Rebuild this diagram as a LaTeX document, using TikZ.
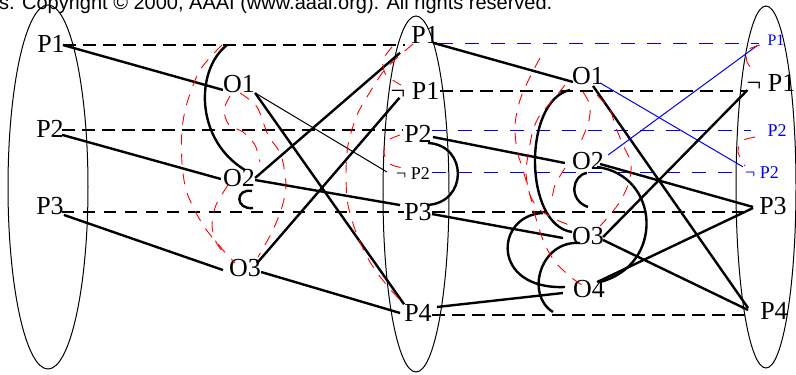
\documentclass[tikz,border=0pt]{standalone}
\usepackage{fontspec}
\setmainfont{Liberation Serif}
\newfontfamily\copyfont{Liberation Sans}
\usetikzlibrary{calc}
\begin{document}
\begin{tikzpicture}[x=1pt,y=-1pt,
  lbl/.style={inner sep=0pt, font=\fontsize{26}{26}\selectfont},
  slbl/.style={inner sep=0pt, font=\fontsize{18}{18}\selectfont},
  tlbl/.style={inner sep=0pt, font=\fontsize{16}{16}\selectfont},
  thk/.style={line width=2.4pt},
  thn/.style={line width=1pt},
  tdash/.style={line width=2.4pt, dash pattern=on 13pt off 7pt},
  ndash/.style={line width=1.3pt, dash pattern=on 12pt off 9pt},
  bdash/.style={blue, line width=0.9pt, dash pattern=on 14pt off 12pt},
  bline/.style={blue, line width=1pt},
  rdash/.style={red, line width=0.9pt, dash pattern=on 11pt off 9pt},
  ell/.style={line width=1pt}]
\useasboundingbox (0,0) rectangle (796,375);

% copyright line
\node[anchor=base west, inner sep=0pt, font=\copyfont\fontsize{20}{20}\selectfont] (cr) at (-1,9.5)
  {s. Copyright © 2000, AAAI (www.aaai.org). All rights reserved.};

% ellipses
\draw[ell] (48,187) ellipse [x radius=40pt, y radius=182pt];
\draw[ell] (416,194) ellipse [x radius=33pt, y radius=178pt];
\draw[ell] (766,187) ellipse [x radius=30pt, y radius=181pt];

% labels
\node[lbl] (lP1) at (51,44) {P1};
\node[lbl] (lP2) at (50,129) {P2};
\node[lbl] (lP3) at (50,206) {P3};
\node[lbl] (lO1) at (239,84) {O1};
\node[lbl] (lO2) at (239,178) {O2};
\node[lbl] (lO3) at (245,268) {O3};
\node[lbl] (mP1) at (425,35) {P1};
\node[lbl] (mnP1) at (415,91) {¬ P1};
\node[lbl] (mP2) at (418,134) {P2};
\node[slbl] (mnP2) at (413,174) {¬ P2};
\node[lbl] (mP3) at (418,212) {P3};
\node[lbl] (mP4) at (418,313) {P4};
\node[lbl] (rO1) at (588,76) {O1};
\node[lbl] (rO2) at (588,161) {O2};
\node[lbl] (rO3) at (588,236) {O3};
\node[lbl] (rO4) at (589,289) {O4};
\node[tlbl, text=blue] (rbP1) at (776,40) {P1};
\node[lbl] (rnP1) at (771,83) {¬ P1};
\node[slbl, text=blue] (rbP2) at (777,131) {P2};
\node[slbl, text=blue] (rbnP2) at (762,173) {¬ P2};
\node[lbl] (rP3) at (773,206) {P3};
\node[lbl] (rP4) at (774,311) {P4};

% dashed horizontal lines
\draw[tdash] ($(lP1.east)+(-2,1)$) -- ($(lP1.east -| mP1.west)+(-6,1)$);
\draw[tdash] ($(lP2.east)+(-2,1)$) -- ($(lP2.east -| mP2.west)+(-2,1)$);
\draw[ndash] ($(lP3.east)+(-2,6)$) -- ($(lP3.east -| mP3.west)+(0,6)$);
\draw[bdash] (mP1.south east) -- ($(mP1.south east -| rbP1.west)+(-8,0)$);
\draw[tdash] (mnP1.east) -- ($(mnP1.east -| rnP1.west)+(0,0)$);
\draw[bdash] ($(mP2.east)+(0,-4)$) -- ($(mP2.east -| rbP2.west)+(-16,-4)$);
\draw[bdash] ($(mnP2.east)+(2,-2)$) -- ($(mnP2.east -| rbnP2.west)+(-3,-2)$);
\draw[tdash] (mP3.east) -- ($(mP3.east -| rP3.west)+(-11,0)$);
\draw[tdash] ($(mP4.east)+(0,2)$) -- ($(mP4.east -| rP4.west)+(-12,2)$);

% left solid connectors
\draw[thk] ($(lP1.east)+(-2,1)$) -- ($(lO1.south west)+(0,-3)$);
\draw[thk] ($(lP2.south east)+(-2,-3)$) -- ($(lO2.west)+(-2,1)$);
\draw[thk] (lP3.south east) -- ($(lO3.west)+(-6,2)$);
\draw[thk] (lO1.south east) -- (mP4.north west);
\draw[thn] (lO1.south east) -- ($(mnP2.west)+(-9,-2)$);
\draw[thk] (lO2.east) -- ($(mP1.south west)+(-11,9)$);
\draw[thk] ($(lO2.east)+(0,2)$) -- ($(mP3.north west)+(-4,2)$);
\draw[thk] ($(lO3.north east)+(-4,4)$) -- ($(mnP1.south west)+(9,-2)$);
\draw[thk] ($(lO3.east)+(0,4)$) -- ($(mP4.west)+(-4,0)$);

% right solid connectors
\draw[thk] ($(mP1.south east)+(-6,-1)$) -- ($(rO1.south west)+(1,-3)$);
\draw[thk] ($(mP2.east)+(1,3)$) -- ($(rO2.west)+(-7,2)$);
\draw[thk] ($(mP3.east)+(0,2)$) -- ($(rO3.west)+(-9,2)$);
\draw[thk] ($(mP4.east)+(5,-6)$) -- ($(rO4.west)+(-10,4)$);
\draw[bline] ($(rO1.south east)+(-4,-2)$) -- ($(rbnP2.north west)+(-2,0)$);
\draw[thk] ($(rO1.south)+(5,1)$) -- ($(rP4.west)+(-12,-3)$);
\draw[bline] ($(rO2.east)+(4,-6)$) -- ($(rbP1.south west)+(-10,0)$);
\draw[thk] ($(rO2.east)+(-4,3)$) -- ($(rP3.west)+(-6,1)$);
\draw[thk] ($(rO3.east)+(-1,1)$) -- ($(rnP1.west)+(1,7)$);
\draw[thk] ($(rO3.east)+(-1,4)$) -- ($(rP4.west)+(-12,-1)$);
\draw[thk] ($(rO4.north east)+(-8,2)$) -- ($(rP3.west)+(-6,2)$);

% black curved arcs
\draw[thk] (227,45) .. controls (195,70) and (195,140) .. (245,170);
\draw[thk] (252,191) .. controls (235,188) and (235,210) .. (253,208);
\draw[thk] (428,143) .. controls (468,145) and (468,203) .. (427,205);
\draw[thk] (570,90) .. controls (523,100) and (523,225) .. (572,232);
\draw[thk] (587,173) .. controls (572,175) and (568,200) .. (588,207);
\draw[thk] (597,167) .. controls (660,175) and (665,265) .. (600,282);
\draw[thk] (543,213) .. controls (495,215) and (490,290) .. (565,287);
\draw[thk] (580,243) .. controls (540,240) and (525,295) .. (553,312);

% red dashed curves, left panel
\draw[rdash] plot[smooth] coordinates {(222,45) (200,70) (187,103) (182,130) (182,163) (187,193) (203,225) (223,250) (235,263)};
\draw[rdash] plot[smooth] coordinates {(240,93) (257,107) (268,135) (281,155) (286,185) (282,207) (272,232) (258,257)};
\draw[rdash] plot[smooth] coordinates {(230,96) (224,110) (229,125) (243,132) (255,145) (260,162)};
\draw[rdash] plot[smooth] coordinates {(228,185) (216,205) (212,225) (216,242) (226,256)};
\draw[rdash] plot[smooth] coordinates {(413,44) (398,57) (383,72) (370,92) (357,115) (348,145) (346,175) (348,205) (357,235) (370,262) (385,283) (400,300)};
\draw[rdash] plot[smooth] coordinates {(392,47) (383,60) (386,75) (401,85)};
\draw[rdash] plot[smooth] coordinates {(400,135) (387,141) (384,153) (390,164) (403,168)};
% red dashed curves, right panel
\draw[rdash] plot[smooth] coordinates {(540,58) (530,77) (520,100) (515,125) (517,150) (523,170) (530,195) (537,222) (545,245) (556,263) (572,278) (582,285)};
\draw[rdash] plot[smooth] coordinates {(565,85) (553,100) (540,115) (533,130) (529,150) (526,172) (530,195) (540,210) (557,220) (572,226)};
\draw[rdash] plot[smooth] coordinates {(583,92) (590,105) (589,120) (585,132) (578,148)};
\draw[rdash] plot[smooth] coordinates {(597,95) (610,110) (615,125) (623,145) (631,163) (629,182) (621,200) (610,215) (600,226)};
\draw[rdash] plot[smooth] coordinates {(565,168) (555,185) (552,200)};
\draw[rdash] plot[smooth] coordinates {(760,45) (748,50) (747,62) (756,73)};
\draw[rdash] plot[smooth] coordinates {(755,137) (742,141) (738,152) (745,166)};
\end{tikzpicture}
\end{document}
